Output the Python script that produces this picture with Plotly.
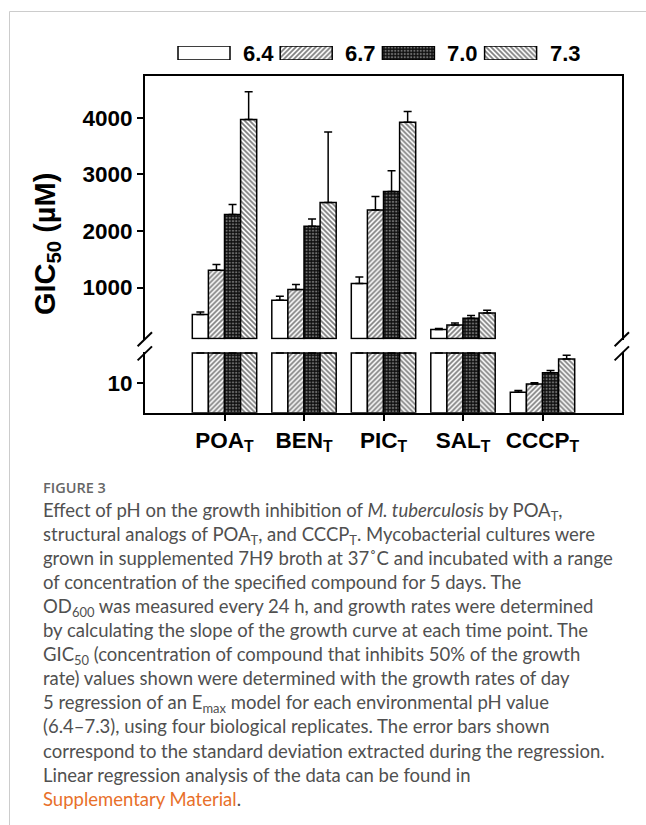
import plotly.graph_objects as go

# ---------------- data ----------------
categories = ["POA<sub>T</sub>", "BEN<sub>T</sub>", "PIC<sub>T</sub>", "SAL<sub>T</sub>", "CCCP<sub>T</sub>"]
ph_labels = ["6.4", "6.7", "7.0", "7.3"]

gic_64 = [523, 775, 1071, 257, 6.8]
err_64 = [45, 70, 115, 20, 0.6]
gic_67 = [1306, 964, 2372, 339, 9.6]
err_67 = [100, 90, 240, 35, 0.4]
gic_70 = [2291, 2084, 2697, 457, 13.4]
err_70 = [180, 130, 370, 50, 0.7]
gic_73 = [3971, 2503, 3923, 551, 18.0]
err_73 = [490, 1250, 190, 50, 1.2]

upper_ticks = [1000, 2000, 3000, 4000]
lower_ticks = [10]

series = [gic_64, gic_67, gic_70, gic_73]
errors = [err_64, err_67, err_70, err_73]

# ---------------- styling ----------------
W, H = 646, 825
def PX(x):
    return x / W
def PY(y):
    return 1 - y / H

PATTERNS = [
    dict(shape="", fgcolor="black", bgcolor="white"),
    dict(shape="/", fgcolor="black", bgcolor="white", size=3.5, solidity=0.5),
    dict(shape=".", fgcolor="#d0d0d0", bgcolor="#111111", size=3.2, solidity=0.35),
    dict(shape="\\", fgcolor="black", bgcolor="white", size=3.5, solidity=0.5),
]

UPPER_RANGE = [80, 4750]
UPPER_BASE = 100
LOWER_RANGE = [0, 20.3]
LOWER_CAP = 20

BOLD = "Liberation Sans, Arial, sans-serif"
TICKFONT = dict(family=BOLD, size=22.5, color="black", weight="bold")

x_idx = list(range(len(categories)))

fig = go.Figure()

for i, (vals, errs) in enumerate(zip(series, errors)):
    # upper panel
    up_y = [v - UPPER_BASE if v > UPPER_BASE else None for v in vals]
    up_e = [e if v > UPPER_BASE else None for v, e in zip(vals, errs)]
    fig.add_trace(go.Bar(
        x=x_idx, y=up_y, base=UPPER_BASE, xaxis="x2", yaxis="y",
        marker=dict(color="white", line=dict(color="black", width=1.5), pattern=PATTERNS[i]),
        error_y=dict(type="data", symmetric=False, array=up_e, arrayminus=[0]*len(vals),
                     color="black", thickness=1.5, width=4),
        showlegend=False, name=ph_labels[i],
    ))
    # lower panel
    lo_y = [min(v, LOWER_CAP) for v in vals]
    lo_e = [e if v < LOWER_CAP else None for v, e in zip(vals, errs)]
    fig.add_trace(go.Bar(
        x=x_idx, y=lo_y, xaxis="x", yaxis="y2",
        marker=dict(color="white", line=dict(color="black", width=1.5), pattern=PATTERNS[i]),
        error_y=dict(type="data", symmetric=False, array=lo_e, arrayminus=[0]*len(vals),
                     color="black", thickness=1.5, width=4),
        showlegend=False, name=ph_labels[i],
    ))

# legend swatches on an auxiliary axis (pixel-like units)
LEG_X0, LEG_STEP, LEG_W = 178, 102.2, 52
for i, lab in enumerate(ph_labels):
    x0 = LEG_X0 + i * LEG_STEP
    fig.add_trace(go.Bar(
        x=[x0], y=[1], width=[LEG_W], offset=0, xaxis="x3", yaxis="y3",
        marker=dict(color="white", line=dict(color="black", width=1.5), pattern=PATTERNS[i]),
        cliponaxis=False, showlegend=False, hoverinfo="skip",
    ))
    fig.add_annotation(x=x0 + LEG_W + 11, y=0.5, xref="x3", yref="y3", text=lab,
                       showarrow=False, xanchor="left", yanchor="middle",
                       font=dict(family=BOLD, size=22, color="black", weight="bold"))

x_dom = [PX(145), PX(622)]
fig.update_layout(
    width=W, height=H, margin=dict(l=0, r=0, t=0, b=0),
    paper_bgcolor="white", plot_bgcolor="white",
    barmode="group", bargap=0.19, bargroupgap=0,
    xaxis=dict(domain=x_dom, range=[-1, 5], anchor="y2", tickvals=x_idx,
               ticktext=[f"<b>{c}</b>" for c in categories],
               showline=True, linecolor="black", linewidth=2, ticks="outside", ticklen=6,
               tickwidth=2, tickcolor="black", tickfont=TICKFONT, showgrid=False, zeroline=False),
    xaxis2=dict(domain=x_dom, range=[-1, 5], anchor="y", side="top", showline=True,
                linecolor="black", linewidth=2, showticklabels=False, ticks="",
                showgrid=False, zeroline=False),
    yaxis=dict(domain=[PY(339.6), PY(75.5)], range=UPPER_RANGE, anchor="x2",
               tickvals=upper_ticks, ticktext=[f"<b>{t}</b>" for t in upper_ticks],
               showline=True, mirror=True, linecolor="black", linewidth=2,
               ticks="outside", ticklen=6, tickwidth=2, tickcolor="black", tickfont=TICKFONT,
               showgrid=False, zeroline=False),
    yaxis2=dict(domain=[PY(412.7), PY(352)], range=LOWER_RANGE, anchor="x",
                tickvals=lower_ticks, ticktext=[f"<b>{t}</b>" for t in lower_ticks],
                showline=True, mirror=True, linecolor="black", linewidth=2,
                ticks="outside", ticklen=6, tickwidth=2, tickcolor="black", tickfont=TICKFONT,
                showgrid=False, zeroline=False),
    xaxis3=dict(domain=[0, 1], range=[0, W], anchor="y3", visible=False),
    yaxis3=dict(domain=[PY(60), PY(46)], range=[0, 1], anchor="x3", visible=False),
)

# y-axis title
fig.add_annotation(x=PX(47), y=PY(244), xref="paper", yref="paper",
                   text="<b>GIC<sub>50</sub> (µM)</b>", textangle=-90, showarrow=False,
                   xanchor="center", yanchor="middle",
                   font=dict(family=BOLD, size=29, color="black", weight="bold"))

# axis break marks
shapes = []
for ax_x in (144.8, 621.8):
    for cy in (339.2, 353.4):
        shapes.append(dict(type="line", xref="paper", yref="paper",
                           x0=PX(ax_x - 7.2), y0=PY(cy + 7), x1=PX(ax_x + 7.2), y1=PY(cy - 7),
                           line=dict(color="black", width=2)))
# panel border (page frame)
shapes.append(dict(type="line", xref="paper", yref="paper", x0=PX(9.5), y0=PY(11.5), x1=PX(9.5), y1=0,
                   line=dict(color="#cccccc", width=1)))
shapes.append(dict(type="line", xref="paper", yref="paper", x0=PX(9.5), y0=PY(11.5), x1=1, y1=PY(11.5),
                   line=dict(color="#cccccc", width=1)))
fig.update_layout(shapes=shapes)

# caption
fig.add_annotation(x=PX(41), y=PY(487), xref="paper", yref="paper", text="FIGURE 3",
                   showarrow=False, xanchor="left", yanchor="middle",
                   font=dict(family="Open Sans, sans-serif", size=14.5, color="#666666", weight=600))
caption_lines = [
    "Effect of pH on the growth inhibition of <i>M. tuberculosis</i> by POA<sub>T</sub>,",
    "structural analogs of POA<sub>T</sub>, and CCCP<sub>T</sub>. Mycobacterial cultures were",
    "grown in supplemented 7H9 broth at 37˚C and incubated with a range",
    "of concentration of the specified compound for 5 days. The",
    "OD<sub>600</sub> was measured every 24 h, and growth rates were determined",
    "by calculating the slope of the growth curve at each time point. The",
    "GIC<sub>50</sub> (concentration of compound that inhibits 50% of the growth",
    "rate) values shown were determined with the growth rates of day",
    "5 regression of an E<sub>max</sub> model for each environmental pH value",
    "(6.4–7.3), using four biological replicates. The error bars shown",
    "correspond to the standard deviation extracted during the regression.",
    "Linear regression analysis of the data can be found in",
    "<span style='color:#e8702a'>Supplementary Material</span>.",
]
fig.add_annotation(x=PX(41), y=PY(654), xref="paper", yref="paper",
                   text="<br>".join(caption_lines), align="left",
                   showarrow=False, xanchor="left", yanchor="middle",
                   font=dict(family="Lato, sans-serif", size=18.5, color="#505050"))

fig.write_html("out.html")
